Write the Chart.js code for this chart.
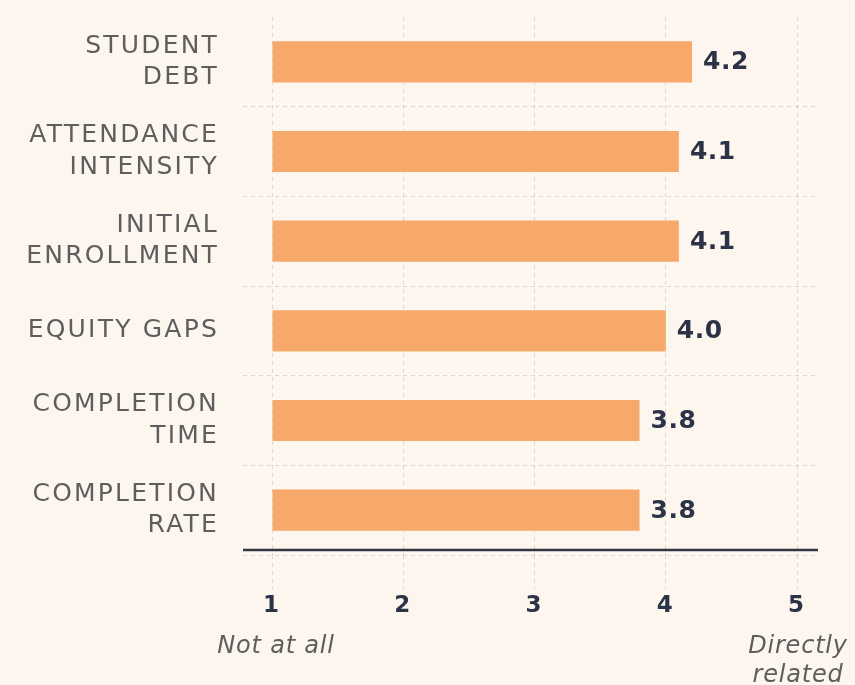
<!DOCTYPE html>
<html>
<head>
<meta charset="utf-8">
<script src="https://cdn.jsdelivr.net/npm/chart.js@4.4.1/dist/chart.umd.min.js"></script>
<style>
  html, body { margin: 0; padding: 0; background: #FDF6EE; }
  #wrap { width: 855px; height: 685px; position: relative; }
</style>
</head>
<body>
<div id="wrap"><canvas id="c" width="855" height="685"></canvas></div>
<script>
// ---- data ----
const categories = [
  ['STUDENT', 'DEBT'],
  ['ATTENDANCE', 'INTENSITY'],
  ['INITIAL', 'ENROLLMENT'],
  ['EQUITY GAPS'],
  ['COMPLETION', 'TIME'],
  ['COMPLETION', 'RATE']
];
const scores = [4.2, 4.1, 4.1, 4.0, 3.8, 3.8];
const scoreLabels = ['4.2', '4.1', '4.1', '4.0', '3.8', '3.8'];
const xTickValues = [1, 2, 3, 4, 5];
const xTickNotes = [['Not at all'], [], [], [], ['Directly', 'related']];

const BAR = '#F6A96B';
const NAVY = '#2c3347';
const GRAY = '#5e5e5e';
const GRID = 'rgba(190,175,160,0.45)';

const decor = {
  id: 'decor',
  beforeDraw(chart) {
    chart.ctx.letterSpacing = '2.2px';
  },
  afterDatasetsDraw(chart) {
    const ctx = chart.ctx;
    const x = chart.scales.x;
    const area = chart.chartArea;
    ctx.save();
    // axis line
    ctx.strokeStyle = '#2f3542';
    ctx.lineWidth = 2.5;
    ctx.beginPath();
    ctx.moveTo(area.left, area.bottom - 5);
    ctx.lineTo(area.right, area.bottom - 5);
    ctx.stroke();
    // value labels
    ctx.letterSpacing = '0.5px';
    ctx.fillStyle = NAVY;
    ctx.font = 'bold 25px "DejaVu Sans"';
    ctx.textAlign = 'left';
    ctx.textBaseline = 'middle';
    const meta = chart.getDatasetMeta(0);
    meta.data.forEach((bar, i) => {
      ctx.fillText(scoreLabels[i], bar.x + 11, bar.y + 1);
    });
    // tick notes
    ctx.letterSpacing = '0.8px';
    ctx.fillStyle = GRAY;
    ctx.font = 'italic 24px "DejaVu Sans"';
    ctx.textAlign = 'center';
    ctx.textBaseline = 'alphabetic';
    xTickValues.forEach((v, i) => {
      const px = x.getPixelForValue(v);
      xTickNotes[i].forEach((line, j) => {
        ctx.fillText(line, px + (i === 0 ? 4 : 1), 653 + j * 29);
      });
    });
    ctx.restore();
  }
};

new Chart(document.getElementById('c'), {
  type: 'bar',
  data: {
    labels: categories,
    datasets: [{
      data: scores,
      base: 1,
      backgroundColor: BAR,
      borderWidth: 0,
      barPercentage: 0.46,
      categoryPercentage: 1
    }]
  },
  plugins: [decor],
  options: {
    indexAxis: 'y',
    responsive: false,
    animation: false,
    events: [],
    layout: { padding: { top: 17, right: 37, left: 0, bottom: 0 } },
    plugins: { legend: { display: false }, tooltip: { enabled: false } },
    scales: {
      x: {
        type: 'linear',
        min: 0.779,
        max: 5.16,
        afterBuildTicks(scale) { scale.ticks = xTickValues.map(v => ({ value: v })); },
        afterFit(scale) { scale.height = 130; scale.paddingLeft = 0; scale.paddingRight = 0; },
        border: { display: false, dash: [4, 4] },
        grid: {
          color: GRID,
          lineWidth: 1,
          drawTicks: true,
          tickLength: 35,
          tickColor: GRID,
          tickBorderDash: [4, 4]
        },
        ticks: {
          padding: 2,
          color: NAVY,
          font: { family: '"DejaVu Sans"', size: 23, weight: 'bold' },
          callback: v => String(v)
        }
      },
      y: {
        type: 'category',
        afterFit(scale) { scale.width = 243; scale.paddingTop = 0; scale.paddingBottom = 0; },
        border: { display: false, dash: [4, 4] },
        grid: {
          offset: true,
          drawTicks: false,
          color: ctx => (ctx.index === 0 || ctx.index === categories.length) ? 'rgba(0,0,0,0)' : GRID,
          lineWidth: 1
        },
        ticks: {
          padding: 24,
          color: GRAY,
          font: { family: '"DejaVu Sans"', size: 25, lineHeight: 1.25 }
        }
      }
    }
  }
});
</script>
</body>
</html>
